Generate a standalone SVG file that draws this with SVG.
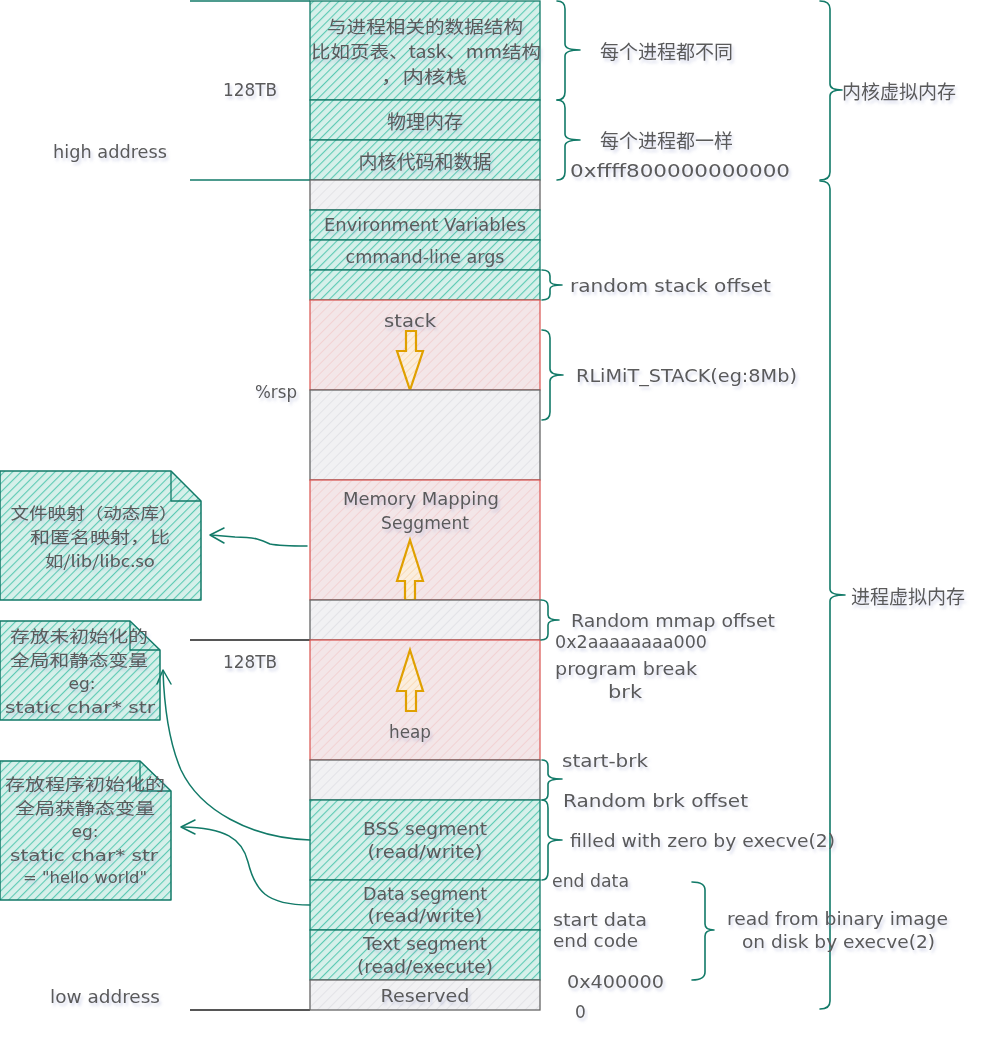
<svg xmlns="http://www.w3.org/2000/svg" width="992" height="1042" viewBox="0 0 992 1042">
  <defs>
    <!-- hachure fills -->
    <pattern id="hTeal" patternUnits="userSpaceOnUse" width="6" height="6" patternTransform="rotate(45)">
      <rect width="6" height="6" fill="#d6f0ea"/>
      <line x1="0" y1="0" x2="0" y2="6" stroke="#5ccab4" stroke-width="2.2"/>
    </pattern>
    <pattern id="hGray" patternUnits="userSpaceOnUse" width="7" height="7" patternTransform="rotate(45)">
      <rect width="7" height="7" fill="#f1f1f3"/>
      <line x1="0" y1="0" x2="0" y2="7" stroke="#dedee2" stroke-width="1.4"/>
    </pattern>
    <pattern id="hPink" patternUnits="userSpaceOnUse" width="7" height="7" patternTransform="rotate(45)">
      <rect width="7" height="7" fill="#f3e6e8"/>
      <line x1="0" y1="0" x2="0" y2="7" stroke="#f2caca" stroke-width="1.4"/>
    </pattern>
    <pattern id="hOrange" patternUnits="userSpaceOnUse" width="5" height="5" patternTransform="rotate(45)">
      <rect width="5" height="5" fill="#fbeede"/>
      <line x1="0" y1="0" x2="0" y2="5" stroke="#f6cfa0" stroke-width="1.2"/>
    </pattern>
    <filter id="ts" x="-10%" y="-30%" width="130%" height="180%">
      <feDropShadow dx="2" dy="3" stdDeviation="1.4" flood-color="#8a93c8" flood-opacity="0.35"/>
    </filter>
  </defs>
  <style>
    .teal { fill: url(#hTeal); stroke: #127a68; stroke-width: 1.3; }
    .gray { fill: url(#hGray); stroke: #666; stroke-width: 1.3; }
    .pink { fill: url(#hPink); stroke: #d9534f; stroke-width: 1.2; }
    .barrow { fill: url(#hOrange); stroke: #e0a000; stroke-width: 2.2; stroke-linejoin: miter; }
    .note { fill: url(#hTeal); stroke: #127a68; stroke-width: 1.5; stroke-linejoin: round; }
    .fold { fill: none; stroke: #127a68; stroke-width: 1.3; }
    .brace { fill: none; stroke: #127a68; stroke-width: 1.6; stroke-linecap: round; stroke-linejoin: round; }
    .conn { fill: none; stroke: #127a68; stroke-width: 1.5; stroke-linecap: round; stroke-linejoin: round; }
    .tick { fill: none; stroke-width: 1.5; }
    text { font-family: "DejaVu Sans", "Noto Sans CJK SC", sans-serif; font-size: 17px; fill: #5a5a5a; dominant-baseline: central; filter: url(#ts); }
    .cjk { font-family: "Noto Sans CJK SC", sans-serif; font-size: 19px; }
    .tcjk { font-family: "Noto Sans CJK SC", sans-serif; font-size: 17px; }
    .ncjk { font-family: "Noto Sans CJK SC", sans-serif; font-size: 16px; }
    .nlat { font-size: 15px; }
    .mid { text-anchor: middle; }
  </style>

  <!-- address boundary ticks on the left -->
  <g id="ticks">
    <line class="tick" x1="190" y1="1" x2="310" y2="1" stroke="#127a68"/>
    <line class="tick" x1="190" y1="180" x2="310" y2="180" stroke="#127a68"/>
    <line class="tick" x1="190" y1="640" x2="310" y2="640" stroke="#1e1e1e"/>
    <line class="tick" x1="190" y1="1010" x2="310" y2="1010" stroke="#1e1e1e"/>
  </g>

  <!-- memory layout column -->
  <g id="kernel-data">
    <rect class="teal" x="310" y="1" width="230" height="99"/>
    <text class="tcjk mid" x="425" y="25" textLength="196" lengthAdjust="spacingAndGlyphs">与进程相关的数据结构</text>
    <text class="tcjk mid" x="426" y="50" textLength="230" lengthAdjust="spacingAndGlyphs">比如页表、task、mm结构</text>
    <text class="tcjk mid" x="424" y="75" textLength="86" lengthAdjust="spacingAndGlyphs">，内核栈</text>
  </g>
  <g id="phys-mem">
    <rect class="teal" x="310" y="100" width="230" height="40"/>
    <text class="cjk mid" x="425" y="120">物理内存</text>
  </g>
  <g id="kernel-code">
    <rect class="teal" x="310" y="140" width="230" height="40"/>
    <text class="cjk mid" x="425" y="160">内核代码和数据</text>
  </g>
  <g id="gap-top">
    <rect class="gray" x="310" y="180" width="230" height="30"/>
  </g>
  <g id="env-vars">
    <rect class="teal" x="310" y="210" width="230" height="30"/>
    <text class="mid" x="425" y="225" textLength="202" lengthAdjust="spacingAndGlyphs">Environment Variables</text>
  </g>
  <g id="cmd-args">
    <rect class="teal" x="310" y="240" width="230" height="30"/>
    <text class="mid" x="425" y="257" textLength="159" lengthAdjust="spacingAndGlyphs">cmmand-line args</text>
  </g>
  <g id="stack-offset">
    <rect class="teal" x="310" y="270" width="230" height="30"/>
  </g>
  <g id="stack">
    <rect class="pink" x="310" y="300" width="230" height="90"/>
    <text class="mid" x="410" y="321" textLength="52" lengthAdjust="spacingAndGlyphs">stack</text>
    <path class="barrow" d="M406,331 L416,331 L416,351 L423,351 L410,390 L397,351 L406,351 Z"/>
  </g>
  <g id="gap-stack">
    <rect class="gray" x="310" y="390" width="230" height="90"/>
  </g>
  <g id="mmap">
    <rect class="pink" x="310" y="480" width="230" height="120"/>
    <text class="mid" x="421" y="499" textLength="156" lengthAdjust="spacingAndGlyphs">Memory Mapping</text>
    <text class="mid" x="425" y="523" textLength="88" lengthAdjust="spacingAndGlyphs">Seggment</text>
    <path class="barrow" d="M410,540 L423,581 L415,581 L415,600 L405,600 L405,581 L397,581 Z"/>
  </g>
  <g id="mmap-offset">
    <rect class="gray" x="310" y="600" width="230" height="40"/>
  </g>
  <g id="heap">
    <rect class="pink" x="310" y="640" width="230" height="120"/>
    <path class="barrow" d="M410,650 L423,691 L416,691 L416,711 L406,711 L406,691 L397,691 Z"/>
    <text class="mid" x="410" y="732" textLength="42" lengthAdjust="spacingAndGlyphs">heap</text>
  </g>
  <g id="brk-offset">
    <rect class="gray" x="310" y="760" width="230" height="40"/>
  </g>
  <g id="bss">
    <rect class="teal" x="310" y="800" width="230" height="80"/>
    <text class="mid" x="425" y="829" textLength="124" lengthAdjust="spacingAndGlyphs">BSS segment</text>
    <text class="mid" x="425" y="852" textLength="115" lengthAdjust="spacingAndGlyphs">(read/write)</text>
  </g>
  <g id="data">
    <rect class="teal" x="310" y="880" width="230" height="50"/>
    <text class="mid" x="425" y="894" textLength="124" lengthAdjust="spacingAndGlyphs">Data segment</text>
    <text class="mid" x="425" y="916" textLength="115" lengthAdjust="spacingAndGlyphs">(read/write)</text>
  </g>
  <g id="text-seg">
    <rect class="teal" x="310" y="930" width="230" height="50"/>
    <text class="mid" x="425" y="944" textLength="124" lengthAdjust="spacingAndGlyphs">Text segment</text>
    <text class="mid" x="425" y="967" textLength="136" lengthAdjust="spacingAndGlyphs">(read/execute)</text>
  </g>
  <g id="reserved">
    <rect class="gray" x="310" y="980" width="230" height="30"/>
    <text class="mid" x="425" y="996" textLength="89" lengthAdjust="spacingAndGlyphs">Reserved</text>
  </g>

  <!-- left-side labels -->
  <g id="left-labels">
    <text x="223" y="90" textLength="54" lengthAdjust="spacingAndGlyphs">128TB</text>
    <text x="53" y="152" textLength="114" lengthAdjust="spacingAndGlyphs">high address</text>
    <text x="255" y="392" textLength="42" lengthAdjust="spacingAndGlyphs">%rsp</text>
    <text x="223" y="662" textLength="54" lengthAdjust="spacingAndGlyphs">128TB</text>
    <text x="50" y="997" textLength="110" lengthAdjust="spacingAndGlyphs">low address</text>
  </g>

  <!-- side notes -->
  <g id="note-mmap">
    <path class="note" d="M0,471 L171,471 L201,501 L201,600 L0,600 Z"/>
    <path class="fold" d="M171,471 L171,501 L201,501"/>
    <text class="ncjk mid" x="94" y="512" textLength="167" lengthAdjust="spacingAndGlyphs">文件映射（动态库）</text>
    <text class="ncjk mid" x="100" y="536" textLength="140" lengthAdjust="spacingAndGlyphs">和匿名映射，比</text>
    <text class="ncjk mid" x="100" y="560" textLength="110" lengthAdjust="spacingAndGlyphs">如/lib/libc.so</text>
  </g>
  <g id="note-bss">
    <path class="note" d="M0,621 L130,621 L160,650 L160,720 L0,720 Z"/>
    <path class="fold" d="M130,621 L130,650 L160,650"/>
    <text class="ncjk mid" x="79" y="635" textLength="138" lengthAdjust="spacingAndGlyphs">存放未初始化的</text>
    <text class="ncjk mid" x="79" y="659" textLength="138" lengthAdjust="spacingAndGlyphs">全局和静态变量</text>
    <text class="nlat mid" x="82" y="684" textLength="27" lengthAdjust="spacingAndGlyphs">eg:</text>
    <text class="nlat mid" x="80" y="708" textLength="150" lengthAdjust="spacingAndGlyphs">static char* str</text>
  </g>
  <g id="note-data">
    <path class="note" d="M0,761 L140,761 L171,791 L171,900 L0,900 Z"/>
    <path class="fold" d="M140,761 L140,791 L171,791"/>
    <text class="ncjk mid" x="85" y="783" textLength="160" lengthAdjust="spacingAndGlyphs">存放程序初始化的</text>
    <text class="ncjk mid" x="85" y="807" textLength="140" lengthAdjust="spacingAndGlyphs">全局获静态变量</text>
    <text class="nlat mid" x="85" y="832" textLength="27" lengthAdjust="spacingAndGlyphs">eg:</text>
    <text class="nlat mid" x="84" y="856" textLength="148" lengthAdjust="spacingAndGlyphs">static char* str</text>
    <text class="nlat mid" x="85" y="878" textLength="124" lengthAdjust="spacingAndGlyphs">= "hello world"</text>
  </g>

  <!-- connectors -->
  <g id="connectors">
    <path class="conn" d="M307,546 C292,546 280,546 270,544 C262,540 255,537 235,537 L211,535"/>
    <path class="conn" d="M224,528 L210,535 L224,543"/>
    <path class="conn" d="M310,840 C250,838 200,810 181,770 C168,740 164,700 163,671"/>
    <path class="conn" d="M157,684 L163,670 L171,684"/>
    <path class="conn" d="M310,905 C265,905 255,890 248,862 C242,838 225,828 182,827"/>
    <path class="conn" d="M195,820 L181,827 L195,834"/>
  </g>

  <!-- braces and their labels -->
  <g id="brace-per-process">
    <path class="brace" d="M557,1 Q565,1 565,9 L565,44 Q565,50 580,50 Q565,50 565,56 L565,92 Q565,100 557,100"/>
    <text class="cjk" x="600" y="50">每个进程都不同</text>
  </g>
  <g id="brace-shared">
    <path class="brace" d="M557,100 Q565,100 565,108 L565,134 Q565,140 580,140 Q565,140 565,146 L565,172 Q565,180 557,180"/>
    <text class="cjk" x="600" y="139">每个进程都一样</text>
    <text x="570" y="171" textLength="220" lengthAdjust="spacingAndGlyphs">0xffff800000000000</text>
  </g>
  <g id="brace-kernel">
    <path class="brace" d="M820,1 Q830,1 830,9 L830,84 Q830,90 842,90 Q830,90 830,96 L830,172 Q830,180 820,180"/>
    <text class="cjk" x="842" y="90">内核虚拟内存</text>
  </g>
  <g id="brace-process">
    <path class="brace" d="M820,181 Q830,181 830,189 L830,589 Q830,595 845,595 Q830,595 830,601 L830,1001 Q830,1009 820,1009"/>
    <text class="cjk" x="851" y="595">进程虚拟内存</text>
  </g>
  <g id="brace-stack-offset">
    <path class="brace" d="M542,270 Q550,270 550,276 L550,281 Q550,285 562,285 Q550,285 550,289 L550,294 Q550,300 542,300"/>
    <text x="570" y="286" textLength="201" lengthAdjust="spacingAndGlyphs">random stack offset</text>
  </g>
  <g id="brace-rlimit">
    <path class="brace" d="M542,330 Q550,330 550,338 L550,369 Q550,375 563,375 Q550,375 550,381 L550,412 Q550,420 542,420"/>
    <text x="576" y="376" textLength="221" lengthAdjust="spacingAndGlyphs">RLiMiT_STACK(eg:8Mb)</text>
  </g>
  <g id="brace-mmap-offset">
    <path class="brace" d="M541,600 Q548,600 548,606 L548,615 Q548,620 559,620 Q548,620 548,625 L548,634 Q548,640 541,640"/>
    <text x="571" y="621" textLength="204" lengthAdjust="spacingAndGlyphs">Random mmap offset</text>
    <text x="555" y="642" textLength="152" lengthAdjust="spacingAndGlyphs">0x2aaaaaaaa000</text>
    <text x="555" y="669" textLength="142" lengthAdjust="spacingAndGlyphs">program break</text>
    <text x="608" y="692" textLength="34" lengthAdjust="spacingAndGlyphs">brk</text>
  </g>
  <g id="brace-brk-offset">
    <path class="brace" d="M542,760 Q548,760 548,766 L548,774 Q548,779 562,779 Q548,779 548,784 L548,794 Q548,800 542,800"/>
    <text x="562" y="761" textLength="86" lengthAdjust="spacingAndGlyphs">start-brk</text>
    <text x="563" y="801" textLength="185" lengthAdjust="spacingAndGlyphs">Random brk offset</text>
  </g>
  <g id="brace-bss">
    <path class="brace" d="M542,800 Q548,800 548,808 L548,834 Q548,840 562,840 Q548,840 548,846 L548,872 Q548,880 542,880"/>
    <text x="570" y="841" textLength="265" lengthAdjust="spacingAndGlyphs">filled with zero by execve(2)</text>
  </g>
  <g id="segment-marks">
    <text x="552" y="881" textLength="77" lengthAdjust="spacingAndGlyphs">end data</text>
    <text x="553" y="920" textLength="94" lengthAdjust="spacingAndGlyphs">start data</text>
    <text x="553" y="941" textLength="85" lengthAdjust="spacingAndGlyphs">end code</text>
    <text x="567" y="982" textLength="97" lengthAdjust="spacingAndGlyphs">0x400000</text>
    <text x="575" y="1012">0</text>
  </g>
  <g id="brace-binary">
    <path class="brace" d="M692,882 Q705,882 705,890 L705,924 Q705,930 714,930 Q705,930 705,936 L705,972 Q705,980 692,980"/>
    <text x="727" y="919" textLength="221" lengthAdjust="spacingAndGlyphs">read from binary image</text>
    <text x="742" y="942" textLength="193" lengthAdjust="spacingAndGlyphs">on disk by execve(2)</text>
  </g>
</svg>
